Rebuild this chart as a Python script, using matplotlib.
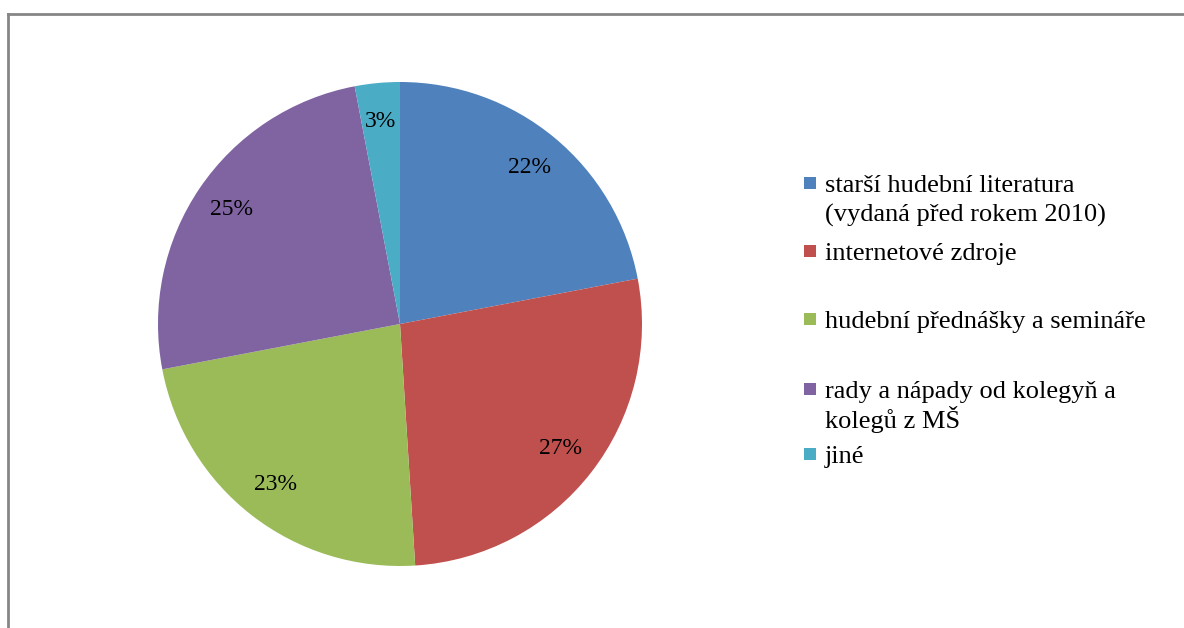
import matplotlib.pyplot as plt
from matplotlib.patches import Rectangle
from matplotlib.lines import Line2D

plt.rcParams['font.family'] = ['Liberation Serif', 'DejaVu Serif']

labels = [
    "starší hudební literatura\n(vydaná před rokem 2010)",
    "internetové zdroje",
    "hudební přednášky a semináře",
    "rady a nápady od kolegyň a\nkolegů z MŠ",
    "jiné",
]
shares = [22, 27, 23, 25, 3]
colors = ["#4F81BD", "#C0504D", "#9BBB59", "#8064A2", "#4BACC6"]

W, H = 1184, 628
fig = plt.figure(figsize=(W / 100, H / 100), dpi=100)

# pie centred at (400, 324) px, radius 242 px
cx, cy, r = 400, 324, 242
ax = fig.add_axes([(cx - r) / W, 1 - (cy + r) / H, 2 * r / W, 2 * r / H])
ax.pie(shares, colors=colors, startangle=90, counterclock=False,
       autopct=lambda p: f"{p:.0f}%", pctdistance=0.84,
       wedgeprops=dict(linewidth=0),
       textprops=dict(fontsize=17, color="black"))
ax.set_aspect("equal")
ax.set_xlim(-1, 1)
ax.set_ylim(-1, 1)

# legend drawn by hand, Excel-like spacing
baselines = [192, 260, 328, 398, 463]
line_step = 30
for lab, col, yb in zip(labels, colors, baselines):
    fig.patches.append(Rectangle((804 / W, 1 - (yb - 3) / H), 12 / W, 12 / H,
                                 transform=fig.transFigure, facecolor=col,
                                 edgecolor="none"))
    for i, line in enumerate(lab.split("\n")):
        fig.text(825 / W, 1 - (yb + i * line_step) / H, line, fontsize=19,
                 va="baseline", ha="left")

# grey chart-area border (cut off at the right and bottom)
frame_col = "#868686"
fig.add_artist(Line2D([8 / W, 8 / W], [0, 1 - 14 / H], color=frame_col, lw=2))
fig.add_artist(Line2D([8 / W, 1], [1 - 14 / H, 1 - 14 / H], color=frame_col, lw=2))

fig.savefig("out.png", dpi=100)
